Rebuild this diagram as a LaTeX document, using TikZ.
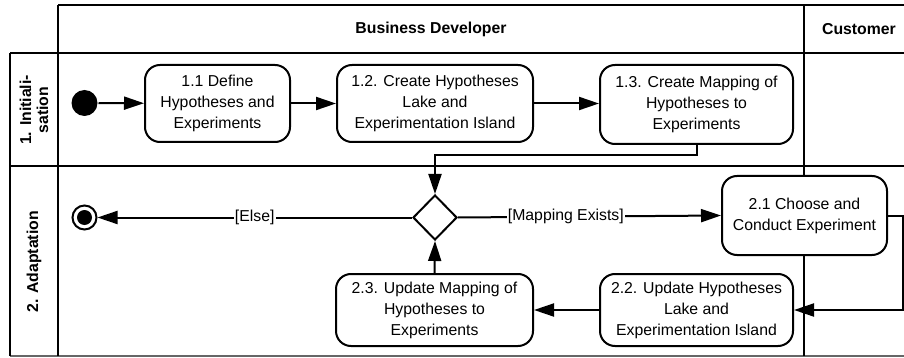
\documentclass[tikz,border=0pt]{standalone}
\usepackage{fontspec}
\setmainfont{Liberation Sans}
\usetikzlibrary{arrows.meta,shapes.geometric}
\begin{document}
\begin{tikzpicture}[x=1pt,y=-1pt,line width=2pt,
  txt/.style={font=\fontsize{15.8}{21}\selectfont},
  act/.style={draw,rounded corners=15pt,fill=white,align=center,txt,inner sep=0pt},
  lane/.style={line width=2pt},
  arr/.style={-{Triangle[length=20pt,width=13pt]}},
  lbl/.style={txt,fill=white,inner sep=1pt},
  hdr/.style={font=\fontsize{15.8}{17}\selectfont\bfseries,align=center}]
\useasboundingbox (0,0) rectangle (904,358);
% lanes
\draw[lane] (58,5) -- (904,5);
\draw[lane] (10,53) -- (904,53);
\draw[lane] (10,166) -- (904,166);
\draw[lane,black!60] (10,356) -- (904,356);
\draw[lane] (10,53) -- (10,356);
\draw[lane] (58,5) -- (58,356);
\draw[lane] (804,5) -- (804,356);
\node[hdr] (hbd) at (431,29) {Business Developer};
\node[hdr] (hcu) at (859,29) {Customer};
\node[hdr,rotate=90] (r1) at (34,110) {1. Initiali-\\sation};
\node[hdr,rotate=90] (r2) at (34,262) {2. Adaptation};
% nodes
\node[circle,fill=black,minimum size=26pt,inner sep=0pt] (start) at (84.5,103) {};
\node[act,minimum width=145pt,minimum height=77pt] (n11) at (217.5,103.5) {1.1 Define\\Hypotheses and\\Experiments};
\node[act,minimum width=196pt,minimum height=77pt] (n12) at (435,103.5) {1.2. Create Hypotheses\\Lake and\\Experimentation Island};
\node[act,minimum width=193pt,minimum height=79pt] (n13) at (696.5,104.5) {1.3. Create Mapping of\\Hypotheses to\\Experiments};
\node[diamond,draw,fill=white,minimum width=44pt,minimum height=45pt,inner sep=0pt] (dec) at (435,217.5) {};
\node[circle,draw,fill=white,minimum size=24pt,inner sep=0pt] (final) at (84.5,217.5) {};
\node[circle,fill=black,minimum size=15pt,inner sep=0pt] (finalin) at (final.center) {};
\node[act,minimum width=165pt,minimum height=79pt] (n21) at (804.5,215.5) {2.1 Choose and\\Conduct Experiment};
\node[act,minimum width=193pt,minimum height=72pt] (n22) at (696.5,310) {2.2. Update Hypotheses\\Lake and\\Experimentation Island};
\node[act,minimum width=197pt,minimum height=72pt] (n23) at (434.5,310) {2.3. Update Mapping of\\Hypotheses to\\Experiments};
% connectors
\draw[arr] (start) -- (n11);
\draw[arr] (n11.east) -- (n12.west);
\draw[arr] (n12.east) -- (n13.west |- n12.east);
\draw[arr] (n13.south) -- ++(0,10) -| (dec.north);
\draw[arr] (dec.west) -- node[lbl,pos=0.5] {[Else]} (final.east);
\draw[arr] (dec.east) -- node[lbl,pos=0.41] {[Mapping Exists]} (n21.west);
\draw[arr] (n21.east) -- ++(15,0) |- (n22.east);
\draw[arr] (n22.west) -- (n23.east);
\draw[arr] (n23.north) -- (dec.south);
\end{tikzpicture}
\end{document}
